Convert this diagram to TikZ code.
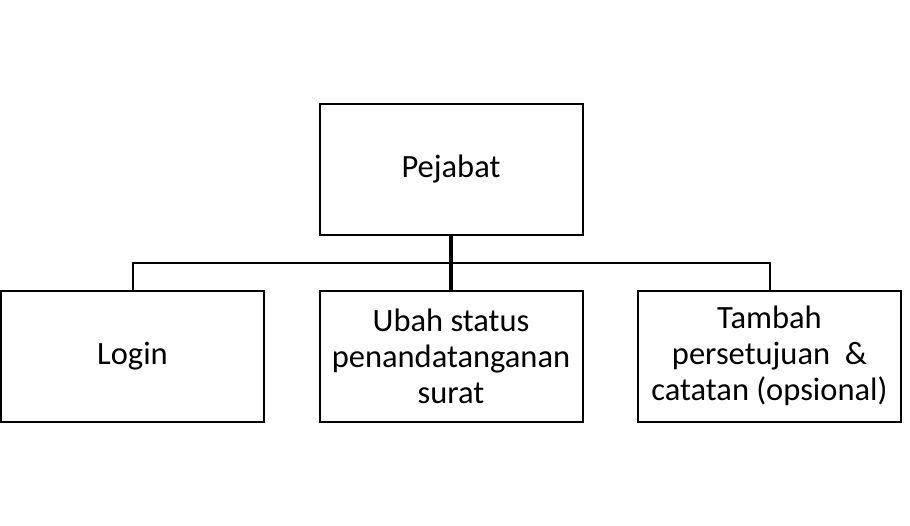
\documentclass[tikz,border=0pt]{standalone}
\usepackage{fontspec}
\setmainfont{Carlito}
\usepackage{tikz}
\usetikzlibrary{positioning}

\tikzset{
    kotak/.style={draw, line width=2pt, minimum width=263pt, minimum height=131pt,
        align=center, inner sep=2pt, font=\fontsize{32.5}{36}\selectfont},
    garis/.style={line width=2pt}
}

\begin{document}
\begin{tikzpicture}[x=1pt, y=-1pt]
    \useasboundingbox (0,0) rectangle (910,525);

    % Actor
    \node[kotak] (pejabat) at (451,169) {Pejabat};

    % Tasks
    \node[kotak] (login) at (132.5,356) {Login};
    \node[kotak] (ubah) at (451,356) {Ubah status\\penandatanganan\\surat};
    \node[kotak] (tambah) at (769.5,356) {Tambah\\persetujuan \ \&\\catatan (opsional)};

    % Connectors
    \coordinate (bus) at (451,263);
    \draw[garis] (login.north) |- (bus) -| (tambah.north);
    \draw[line width=4pt] (pejabat.south) -- (ubah.north);
\end{tikzpicture}
\end{document}
